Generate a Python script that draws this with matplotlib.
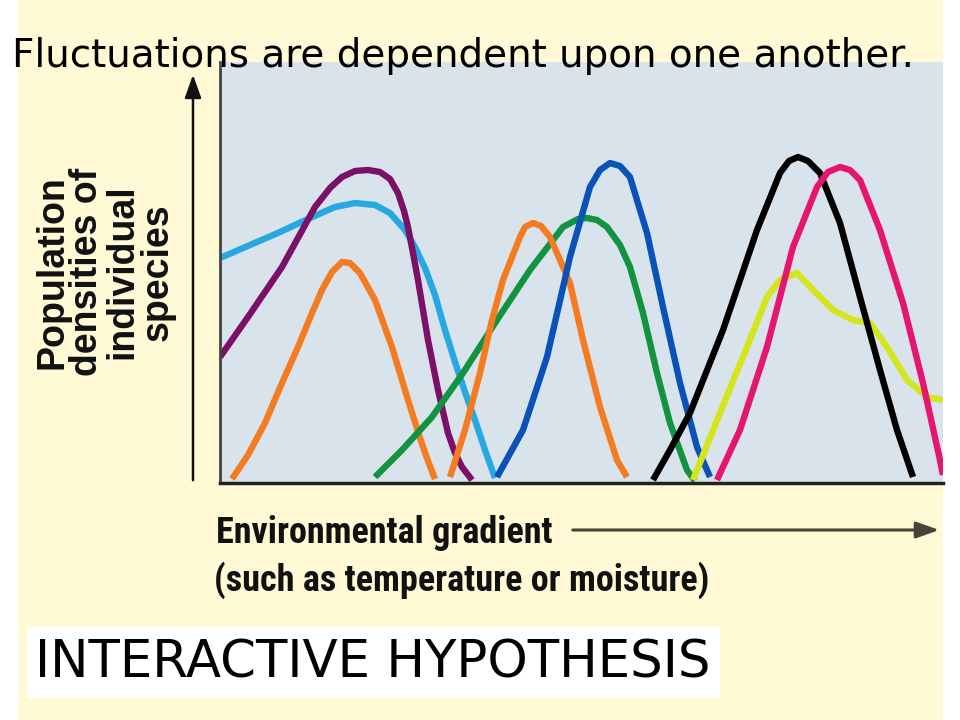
import matplotlib
matplotlib.use("Agg")
import matplotlib.pyplot as plt
from matplotlib.patches import Rectangle, FancyArrowPatch
from matplotlib import font_manager

# Environmental gradient position (arbitrary units) and population density (arbitrary units)
sky_x = [0, 30, 60, 90, 115, 135, 155, 170, 185, 195, 205, 215, 225, 235, 245, 255, 265, 275]
sky_y = [225, 238, 251, 265, 276, 280, 278, 270, 253, 236, 215, 188, 153, 121, 91, 63, 33, 5]

purple_x = [0, 28, 62, 95, 110, 122, 135, 148, 160, 170, 178, 184, 188, 193, 198, 208, 218, 228, 235, 242, 252]
purple_y = [126, 166, 216, 276, 295, 306, 312, 313, 311, 304, 290, 272, 256, 230, 203, 143, 93, 50, 30, 16, 3]

orange1_x = [12, 28, 45, 62, 78, 92, 102, 112, 122, 130, 140, 155, 172, 188, 200, 208, 215]
orange1_y = [4, 28, 60, 100, 136, 170, 193, 211, 221, 220, 210, 183, 136, 83, 45, 22, 4]

green_x = [155, 182, 212, 243, 277, 310, 343, 358, 367, 377, 387, 400, 410, 423, 437, 450, 467, 475]
green_y = [6, 33, 66, 110, 163, 213, 256, 264, 265, 263, 256, 238, 216, 170, 110, 60, 13, 2]

orange2_x = [230, 245, 260, 272, 283, 300, 305, 313, 321, 330, 350, 363, 380, 397, 407]
orange2_y = [6, 53, 110, 163, 203, 246, 256, 260, 257, 246, 200, 143, 76, 23, 6]

blue_x = [277, 303, 327, 350, 370, 380, 390, 400, 410, 427, 443, 460, 477, 490]
blue_y = [6, 53, 126, 226, 296, 313, 320, 317, 306, 250, 176, 100, 36, 6]

black_x = [433, 450, 470, 503, 537, 560, 569, 578, 588, 600, 620, 640, 660, 677, 693]
black_y = [3, 33, 70, 153, 253, 310, 322, 326, 322, 310, 260, 186, 113, 53, 6]

pink_x = [497, 520, 547, 573, 597, 608, 620, 630, 640, 660, 683, 703, 720, 723]
pink_y = [3, 53, 136, 236, 296, 311, 316, 313, 303, 253, 180, 100, 23, 8]

lime_x = [473, 500, 527, 547, 560, 577, 593, 613, 633, 650, 667, 687, 707, 723]
lime_y = [3, 70, 136, 186, 203, 210, 193, 173, 163, 160, 136, 103, 86, 83]

series = [
    (sky_x, sky_y, "#27a8e0"),
    (purple_x, purple_y, "#7a1068"),
    (orange1_x, orange1_y, "#f47b20"),
    (green_x, green_y, "#12933f"),
    (orange2_x, orange2_y, "#f47b20"),
    (blue_x, blue_y, "#0a52b8"),
    (lime_x, lime_y, "#d4e51c"),
    (black_x, black_y, "#000000"),
    (pink_x, pink_y, "#e5166f"),
]

W, H = 960, 720
fig = plt.figure(figsize=(9.6, 7.2), dpi=100, facecolor="white")

def fx(px):
    return px / W

def fy(py):
    return 1 - py / H

# yellow slide background
bg = Rectangle((fx(18), 0), fx(943) - fx(18), 1, transform=fig.transFigure,
               facecolor="#fff9d5", edgecolor="none", zorder=-5)
fig.add_artist(bg)

ax = fig.add_axes([fx(220), fy(483), fx(943) - fx(220), (483 - 62) / H])
ax.set_zorder(1)
ax.set_facecolor("#d9e3ec")
ax.set_xlim(0, 723)
ax.set_ylim(0, 421)
for s in ["top", "right"]:
    ax.spines[s].set_visible(False)
ax.spines["left"].set_color("#444444")
ax.spines["left"].set_linewidth(2)
ax.spines["bottom"].set_color("#222222")
ax.spines["bottom"].set_linewidth(2.5)
ax.set_xticks([])
ax.set_yticks([])

for x, y, c in series:
    ax.plot(x, y, color=c, lw=4.6, solid_joinstyle="round", solid_capstyle="butt")

# axis arrows
fig.add_artist(FancyArrowPatch(
    (fx(193), fy(483)), (fx(193), fy(72)), transform=fig.transFigure,
    arrowstyle="-|>,head_length=14,head_width=5", color="#111111", lw=1.8,
    mutation_scale=1, zorder=3))
fig.add_artist(FancyArrowPatch(
    (fx(570), fy(530)), (fx(942), fy(530)), transform=fig.transFigure,
    arrowstyle="-|>,head_length=14,head_width=5", color="#4a4236", lw=2.2,
    mutation_scale=1, zorder=3))

names = {f.name for f in font_manager.fontManager.ttflist}
cond = [n for n in ["Roboto Condensed", "DejaVu Sans Condensed", "Liberation Sans Narrow"] if n in names]
label_font = cond + ["Roboto", "Liberation Sans", "DejaVu Sans"]

fig.text(fx(105), fy(272), "Population\ndensities of\nindividual\nspecies", rotation=90,
         ha="center", va="center", fontsize=27, fontweight="bold",
         family=["Liberation Sans", "DejaVu Sans"],
         linespacing=0.97, color="#111111", zorder=3)
fig.text(fx(216), fy(533), "Environmental gradient", ha="left", va="center",
         fontsize=26, fontweight="bold", family=label_font, fontstretch="condensed",
         color="#111111", zorder=3)
fig.text(fx(214), fy(580), "(such as temperature or moisture)", ha="left", va="center",
         fontsize=26, fontweight="bold", family=label_font, fontstretch="condensed",
         color="#111111", zorder=3)

fig.text(fx(12), fy(56), "Fluctuations are dependent upon one another.", ha="left", va="center",
         fontsize=28, family=["DejaVu Sans"], color="black", zorder=4)

fig.add_artist(Rectangle((fx(27), fy(698)), fx(720) - fx(27), (698 - 627) / H,
                         transform=fig.transFigure, facecolor="white", edgecolor="none", zorder=3))
fig.text(fx(35), fy(663), "INTERACTIVE HYPOTHESIS", ha="left", va="center",
         fontsize=37, family=["DejaVu Sans"], color="black", zorder=4)

fig.savefig("out.png", dpi=100, facecolor=fig.get_facecolor())
